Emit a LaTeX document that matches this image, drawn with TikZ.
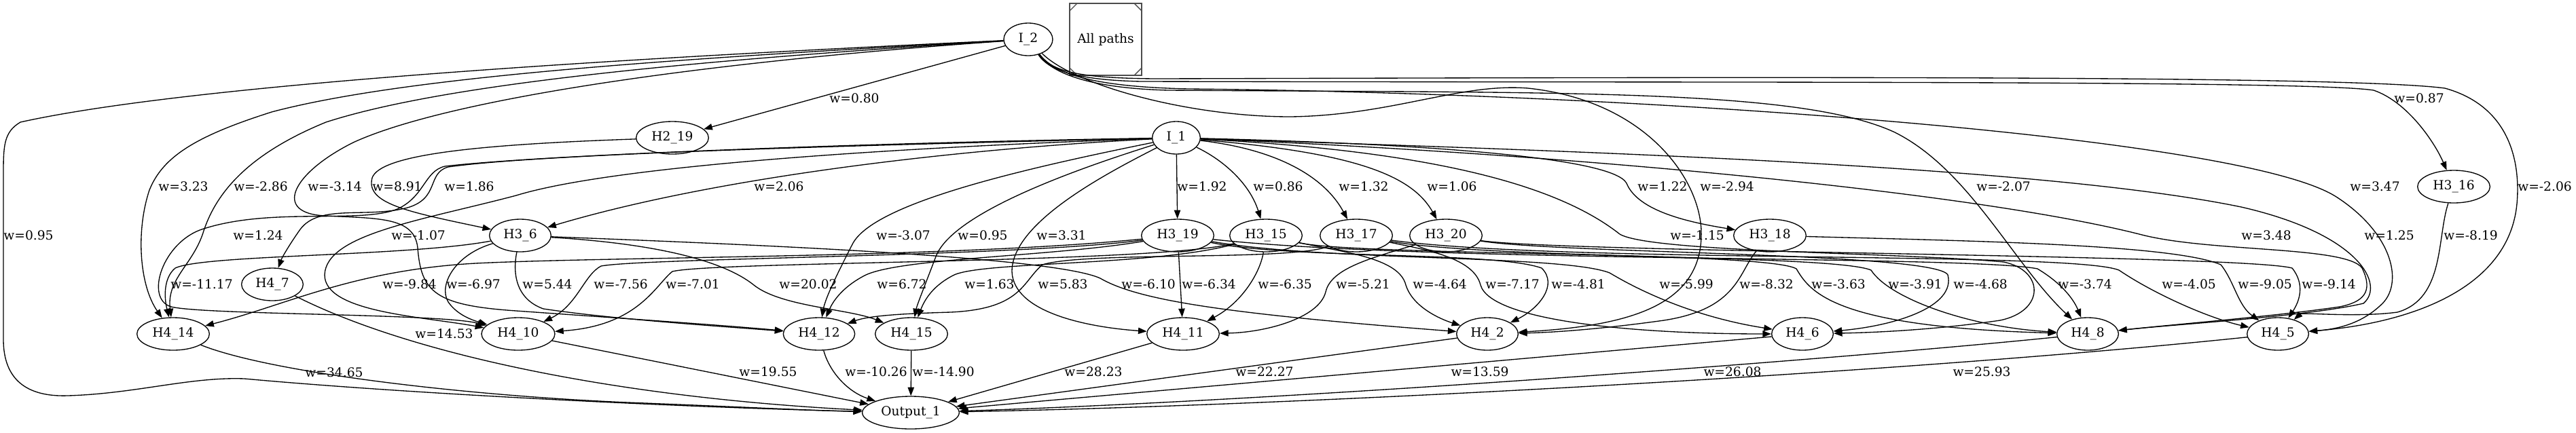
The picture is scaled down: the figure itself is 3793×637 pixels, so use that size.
\documentclass[tikz,border=0pt]{standalone}
\usepackage{fontspec}
\setmainfont{DejaVu Serif}
\usetikzlibrary{arrows.meta,shapes.geometric}
\begin{document}
\begin{tikzpicture}[x=0.75pt,y=-0.75pt,>={Triangle[length=9.5pt,width=7pt]},line width=1pt,
  font=\fontsize{14pt}{16pt}\selectfont,
  every node/.style={inner sep=0pt},
  neuron/.style={shape=ellipse,draw,minimum height=36pt,minimum width=#1},
  wlabel/.style={anchor=center}]
\useasboundingbox (0,0) rectangle (3793,637);

\node (i2) [neuron=54pt] at (1514,58) {I\_2};
\node (legend) [draw=black!70,line width=1.3pt,minimum size=79pt] at (1628,58) {All paths};
\node (i1) [neuron=53pt] at (1732,203) {I\_1};
\node (h219) [neuron=80pt] at (990,203) {H2\_19};
\node (h316) [neuron=80pt] at (3613,275) {H3\_16};
\node (h36) [neuron=68pt] at (766,347) {H3\_6};
\node (h319) [neuron=80pt] at (1734,347) {H3\_19};
\node (h315) [neuron=80pt] at (1864,347) {H3\_15};
\node (h317) [neuron=80pt] at (1997,347) {H3\_17};
\node (h320) [neuron=80pt] at (2129,347) {H3\_20};
\node (h318) [neuron=80pt] at (2606,347) {H3\_18};
\node (h47) [neuron=68pt] at (401,419) {H4\_7};
\node (h414) [neuron=80pt] at (255,492) {H4\_14};
\node (h410) [neuron=81pt] at (763,492) {H4\_10};
\node (h412) [neuron=79pt] at (1206,492) {H4\_12};
\node (h415) [neuron=80pt] at (1342,492) {H4\_15};
\node (h411) [neuron=80pt] at (1742,492) {H4\_11};
\node (h42) [neuron=68pt] at (2190,492) {H4\_2};
\node (h46) [neuron=68pt] at (2654,492) {H4\_6};
\node (h48) [neuron=68pt] at (3074,492) {H4\_8};
\node (h45) [neuron=68pt] at (3354,492) {H4\_5};
\node (out1) [neuron=107pt] at (1341,608) {Output\_1};

\draw[black!70] (legend.north west) ++(0,12) -- ++(12,-12);
\draw[black!70] (legend.north east) ++(-12,0) -- ++(12,12);
\draw[black!70] (legend.south west) ++(0,-12) -- ++(12,12);
\draw[black!70] (legend.south east) ++(0,-12) -- ++(-12,12);

\draw[->] (i2) .. controls (1000,82) and (300,120) .. (30,180) .. controls (5,195) and (5,215) .. (5,260) -- (5,500) .. controls (5,560) and (40,585) .. (100,583) .. controls (200,580) and (280,555) .. (360,558) .. controls (600,580) and (1000,600) .. (out1) node[wlabel] at (42,347) {w=0.95};
\draw[->] (i2) -- (h219) node[wlabel] at (1258,145) {w=0.80};
\draw[->] (i2) .. controls (1545,105) and (1590,118) .. (1680,120) .. controls (2500,122) and (3400,118) .. (3495,133) .. controls (3545,150) and (3585,210) .. (h316) node[wlabel] at (3562,145) {w=0.87};
\draw[->] (i2) .. controls (1000,86) and (600,112) .. (400,165) .. controls (290,200) and (240,230) .. (220,280) .. controls (200,340) and (205,420) .. (h414) node[wlabel] at (270,275) {w=3.23};
\draw[->] (i2) .. controls (1000,90) and (650,125) .. (480,180) .. controls (370,225) and (320,280) .. (300,340) .. controls (285,390) and (245,410) .. (h414) node[wlabel] at (384,275) {w=-2.86};
\draw[->] (i2) .. controls (1000,94) and (650,150) .. (520,210) .. controls (430,255) and (400,315) .. (480,318) .. controls (560,322) and (610,320) .. (615,365) .. controls (620,430) and (640,450) .. (760,458) .. controls (900,468) and (1050,478) .. (h412) node[wlabel] at (493,275) {w=-3.14};
\draw[->] (i2) .. controls (1580,125) and (1750,172) .. (1900,172) .. controls (2050,170) and (2150,122) .. (2250,130) .. controls (2420,148) and (2502,260) .. (2505,340) .. controls (2508,450) and (2400,480) .. (h42) node[wlabel] at (2543,275) {w=-2.94};
\draw[->] (i2) .. controls (1550,110) and (1610,130) .. (1720,133) .. controls (2300,137) and (2650,130) .. (2790,195) .. controls (2900,250) and (2965,390) .. (h48) node[wlabel] at (2950,275) {w=-2.07};
\draw[->] (i2) .. controls (1555,112) and (1620,128) .. (1750,131) .. controls (2400,137) and (3300,200) .. (3440,290) .. controls (3525,345) and (3540,420) .. (3505,450) .. controls (3475,478) and (3440,485) .. (h45) node[wlabel] at (3497,275) {w=3.47};
\draw[->] (i2) .. controls (1550,108) and (1600,115) .. (1700,116) .. controls (2500,114) and (3450,110) .. (3600,130) .. controls (3690,155) and (3712,230) .. (3706,300) .. controls (3695,420) and (3560,475) .. (h45) node[wlabel] at (3747,275) {w=-2.06};

\draw[->] (i1) -- (h319) node[wlabel] at (1770,275) {w=1.92};
\draw[->] (i1) .. controls (1800,235) and (1840,270) .. (h315) node[wlabel] at (1882,275) {w=0.86};
\draw[->] (i1) .. controls (1880,220) and (1950,260) .. (h317) node[wlabel] at (2008,275) {w=1.32};
\draw[->] (i1) .. controls (2000,225) and (2080,260) .. (h320) node[wlabel] at (2138,275) {w=1.06};
\draw[->] (i1) .. controls (2100,212) and (2375,232) .. (2395,270) .. controls (2412,312) and (2490,328) .. (h318) node[wlabel] at (2448,275) {w=1.22};
\draw[->] (i1) .. controls (1400,220) and (1050,262) .. (h36) node[wlabel] at (1147,275) {w=2.06};
\draw[->] (i1) .. controls (1300,213) and (800,226) .. (660,246) .. controls (628,255) and (648,292) .. (600,306) .. controls (540,322) and (470,300) .. (442,338) .. controls (425,362) and (415,380) .. (h47) node[wlabel] at (691,275) {w=1.86};
\draw[->] (i1) .. controls (1300,210) and (800,228) .. (655,245) .. controls (625,252) and (625,290) .. (585,308) .. controls (530,330) and (400,305) .. (300,337) .. controls (240,355) and (212,440) .. (252,452) .. controls (300,464) and (650,462) .. (h410) node[wlabel] at (380,347) {w=1.24};
\draw[->] (i1) .. controls (1300,218) and (900,245) .. (760,288) .. controls (620,325) and (480,345) .. (478,405) .. controls (478,460) and (620,466) .. (h410) node[wlabel] at (616,347) {w=-1.07};
\draw[->] (i1) .. controls (1500,250) and (1285,300) .. (1255,360) .. controls (1232,405) and (1215,440) .. (h412) node[wlabel] at (1330,347) {w=-3.07};
\draw[->] (i1) .. controls (1550,260) and (1400,320) .. (1378,378) .. controls (1362,420) and (1350,450) .. (h415) node[wlabel] at (1447,347) {w=0.95};
\draw[->] (i1) .. controls (1620,260) and (1490,330) .. (1490,400) .. controls (1492,460) and (1600,482) .. (h411) node[wlabel] at (1563,347) {w=3.31};
\draw[->] (i1) .. controls (2100,222) and (2290,270) .. (2385,345) .. controls (2430,372) and (2800,372) .. (2950,386) .. controls (3010,398) and (3012,458) .. (2945,472) .. controls (2850,486) and (2760,490) .. (h46) node[wlabel] at (2499,347) {w=-1.15};
\draw[->] (i1) .. controls (2300,222) and (3000,243) .. (3300,305) .. controls (3475,345) and (3512,420) .. (3480,447) .. controls (3400,466) and (3200,478) .. (h48) node[wlabel] at (3337,347) {w=3.48};
\draw[->] (i1) .. controls (2300,226) and (2900,282) .. (3150,345) .. controls (3250,372) and (3455,362) .. (3478,395) .. controls (3495,430) and (3480,445) .. (3445,452) .. controls (3350,466) and (3200,478) .. (h48) node[wlabel] at (3518,347) {w=1.25};

\draw[->] (h219) .. controls (700,213) and (560,228) .. (548,262) .. controls (538,300) and (600,312) .. (h36) node[wlabel] at (585,275) {w=8.91};
\draw[->] (h316) .. controls (3588,350) and (3600,440) .. (3530,460) .. controls (3470,468) and (3390,460) .. (h45) node[wlabel] at (3638,347) {w=-8.19};

\draw[->] (h36) .. controls (600,378) and (300,375) .. (258,395) .. controls (240,410) and (242,440) .. (h414) node[wlabel] at (297,419) {w=-11.17};
\draw[->] (h36) .. controls (670,375) and (645,420) .. (660,445) .. controls (672,462) and (690,470) .. (h410) node[wlabel] at (697,419) {w=-6.97};
\draw[->] (h36) .. controls (755,400) and (758,440) .. (800,455) .. controls (900,470) and (1050,480) .. (h412) node[wlabel] at (806,419) {w=5.44};
\draw[->] (h36) .. controls (950,358) and (1060,380) .. (1110,420) .. controls (1150,452) and (1250,455) .. (h415) node[wlabel] at (1190,419) {w=20.02};
\draw[->] (h36) .. controls (1100,360) and (1550,378) .. (1620,410) .. controls (1675,442) and (1800,462) .. (h42) node[wlabel] at (1691,419) {w=-6.10};

\draw[->] (h319) .. controls (1400,380) and (900,378) .. (700,388) .. controls (520,398) and (420,450) .. (h414) node[wlabel] at (603,419) {w=-9.84};
\draw[->] (h319) .. controls (1500,378) and (950,380) .. (885,392) .. controls (860,405) and (850,450) .. (h410) node[wlabel] at (914,419) {w=-7.56};
\draw[->] (h319) -- (h411) node[wlabel] at (1780,419) {w=-6.34};
\draw[->] (h319) .. controls (1550,378) and (1330,380) .. (1275,405) .. controls (1245,420) and (1228,440) .. (h412) node[wlabel] at (1328,419) {w=6.72};
\draw[->] (h319) .. controls (1900,382) and (2200,370) .. (2270,395) .. controls (2295,420) and (2265,455) .. (h42) node[wlabel] at (2324,419) {w=-4.81};
\draw[->] (h319) .. controls (1950,385) and (2300,375) .. (2370,402) .. controls (2420,432) and (2500,468) .. (h46) node[wlabel] at (2483,419) {w=-5.99};
\draw[->] (h319) .. controls (2100,387) and (2900,376) .. (3000,396) .. controls (3040,420) and (3055,445) .. (h48) node[wlabel] at (3070,419) {w=-3.74};

\draw[->] (h315) .. controls (1700,388) and (1050,385) .. (990,400) .. controls (965,420) and (940,480) .. (h410) node[wlabel] at (1020,419) {w=-7.01};
\draw[->] (h315) .. controls (1856,400) and (1830,445) .. (h411) node[wlabel] at (1892,419) {w=-6.35};
\draw[->] (h315) .. controls (1980,372) and (2060,380) .. (2070,420) .. controls (2080,452) and (2120,470) .. (h42) node[wlabel] at (2120,419) {w=-4.64};
\draw[->] (h315) .. controls (1700,392) and (1450,385) .. (1405,405) .. controls (1375,420) and (1362,440) .. (h415) node[wlabel] at (1457,419) {w=1.63};
\draw[->] (h315) .. controls (2000,377) and (2600,370) .. (2645,396) .. controls (2665,430) and (2700,482) .. (h48) node[wlabel] at (2707,419) {w=-3.63};

\draw[->] (h317) .. controls (2100,368) and (2170,380) .. (2180,420) .. controls (2195,472) and (2400,492) .. (h46) node[wlabel] at (2227,419) {w=-7.17};
\draw[->] (h317) .. controls (1900,385) and (1600,370) .. (1535,390) .. controls (1505,415) and (1505,455) .. (1400,460) .. controls (1330,462) and (1280,465) .. (h412) node[wlabel] at (1565,419) {w=5.83};
\draw[->] (h317) .. controls (2200,382) and (2700,375) .. (2755,398) .. controls (2782,440) and (2900,482) .. (h48) node[wlabel] at (2820,419) {w=-3.91};
\draw[->] (h317) .. controls (2300,388) and (3050,370) .. (3120,398) .. controls (3170,432) and (3250,468) .. (h45) node[wlabel] at (3223,419) {w=-4.05};

\draw[->] (h320) .. controls (2020,380) and (1960,395) .. (1952,430) .. controls (1942,470) and (1860,490) .. (h411) node[wlabel] at (2007,419) {w=-5.21};
\draw[->] (h320) .. controls (2300,374) and (2850,372) .. (2868,405) .. controls (2880,452) and (2790,480) .. (h46) node[wlabel] at (2916,419) {w=-4.68};
\draw[->] (h320) .. controls (2300,372) and (3300,375) .. (3375,395) .. controls (3395,420) and (3385,445) .. (h45) node[wlabel] at (3429,419) {w=-9.14};

\draw[->] (h318) .. controls (2560,400) and (2560,455) .. (2450,472) .. controls (2350,486) and (2280,490) .. (h42) node[wlabel] at (2601,419) {w=-8.32};
\draw[->] (h318) .. controls (2900,355) and (3200,360) .. (3270,390) .. controls (3290,415) and (3295,450) .. (h45) node[wlabel] at (3335,419) {w=-9.05};

\draw[->] (h414) .. controls (400,550) and (700,585) .. (950,594) .. controls (1100,600) and (1200,605) .. (out1) node[wlabel] at (492,549) {w=34.65};
\draw[->] (h47) .. controls (600,520) and (900,585) .. (out1) node[wlabel] at (654,492) {w=14.53};
\draw[->] (h410) -- (out1) node[wlabel] at (1131,548) {w=19.55};
\draw[->] (h412) .. controls (1222,550) and (1250,578) .. (out1) node[wlabel] at (1290,548) {w=-10.26};
\draw[->] (h415) -- (out1) node[wlabel] at (1389,548) {w=-14.90};
\draw[->] (h411) -- (out1) node[wlabel] at (1610,548) {w=28.23};
\draw[->] (h42) -- (out1) node[wlabel] at (1862,548) {w=22.27};
\draw[->] (h46) -- (out1) node[wlabel] at (2179,548) {w=13.59};
\draw[->] (h48) .. controls (2700,530) and (1900,590) .. (out1) node[wlabel] at (2551,548) {w=26.08};
\draw[->] (h45) .. controls (2800,550) and (1900,598) .. (out1) node[wlabel] at (2918,548) {w=25.93};
\end{tikzpicture}
\end{document}
